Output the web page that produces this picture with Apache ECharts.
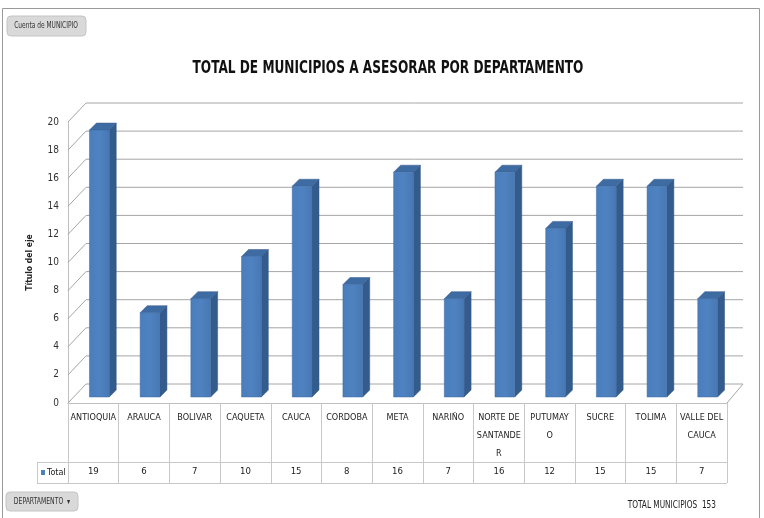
<!DOCTYPE html>
<html>
<head>
<meta charset="utf-8">
<script src="https://cdn.jsdelivr.net/npm/echarts@6/dist/echarts.min.js"></script>
<style>html,body{margin:0;padding:0;background:#fff}#c{width:764px;height:518px}</style>
</head>
<body>
<div id="c"></div>
<script>
const categories = ['ANTIOQUIA','ARAUCA','BOLIVAR','CAQUETA','CAUCA','CORDOBA','META','NARIÑO','NORTE DE SANTANDER','PUTUMAYO','SUCRE','TOLIMA','VALLE DEL CAUCA'];
const categoryLabels = ['ANTIOQUIA','ARAUCA','BOLIVAR','CAQUETA','CAUCA','CORDOBA','META','NARIÑO','NORTE DE\nSANTANDE\nR','PUTUMAY\nO','SUCRE','TOLIMA','VALLE DEL\nCAUCA'];
const totals = [19,6,7,10,15,8,16,7,16,12,15,15,7];
const yTicks = [0,2,4,6,8,10,12,14,16,18,20];
const titleText = 'TOTAL DE MUNICIPIOS A ASESORAR POR DEPARTAMENTO';
const seriesName = 'Total';

const FONT = "'Liberation Sans Narrow','DejaVu Sans Condensed',sans-serif";
const DX = 18, DY = -19;      // depth of the walls
const OX = 6, OY = -6;        // bar placement inside depth
const BDX = 7, BDY = -7;      // bar depth
const grandTotal = totals.reduce((a,b)=>a+b,0);

const chart = echarts.init(document.getElementById('c'), null, {renderer:'canvas'});

const option = {
  backgroundColor:'#ffffff',
  animation:false,
  grid:{left:68, right:37, top:122, bottom:115},
  xAxis:[{
    type:'category', data:categories, position:'bottom',
    axisLine:{show:true, lineStyle:{color:'#bfbfbf', width:1}},
    axisTick:{show:true, length:80, interval:0, lineStyle:{color:'#c8c8c8'}},
    axisLabel:{interval:0, hideOverlap:false, margin:6, fontFamily:FONT, fontSize:9, lineHeight:18, color:'#222', verticalAlign:'top',
      formatter:(v,i)=>categoryLabels[i]}
  },{
    type:'category', data:categories, position:'bottom', offset:59,
    axisLine:{show:true, lineStyle:{color:'#c8c8c8', width:1}},
    axisTick:{show:false},
    axisLabel:{interval:0, hideOverlap:false, margin:5, fontFamily:FONT, fontSize:9.5, color:'#222',
      formatter:(v,i)=>String(totals[i])}
  }],
  yAxis:{
    type:'value', min:0, max:20, interval:2,
    axisLine:{show:true, lineStyle:{color:'#bfbfbf'}},
    axisTick:{show:false}, splitLine:{show:false},
    axisLabel:{margin:9, fontFamily:FONT, fontSize:10, color:'#333'},
    name:'Título del eje', nameLocation:'middle', nameGap:34, nameRotate:90,
    nameTextStyle:{fontFamily:FONT, fontSize:8.5, fontWeight:'bold', color:'#222'}
  },
  series:[{
    type:'custom', name:'walls', silent:true, z:1,
    data: yTicks.map(v=>[0,v]),
    renderItem:(params, api)=>{
      const cs = params.coordSys;
      const y = api.coord([0, api.value(1)])[1];
      const st = {stroke:'#a6a6a6', lineWidth:1};
      const children = [
        {type:'line', shape:{x1:cs.x, y1:y, x2:cs.x+DX, y2:y+DY}, style:st},
        {type:'line', shape:{x1:cs.x+DX, y1:y+DY, x2:cs.x+cs.width+DX-2, y2:y+DY}, style:st}
      ];
      if (api.value(1) === 0) {
        children.push({type:'line', shape:{x1:cs.x+cs.width, y1:y, x2:cs.x+cs.width+DX-2, y2:y+DY}, style:st});
      }
      return {type:'group', children};
    }
  },{
    type:'custom', name:seriesName, z:5,
    data: totals.map((v,i)=>[i,v]),
    renderItem:(params, api)=>{
      const i = api.value(0), v = api.value(1);
      const t = api.coord([i, v]);
      const b = api.coord([i, 0]);
      const bw = api.size([1,0])[0]*0.39;
      const x0 = t[0]-bw/2+OX, x1 = t[0]+bw/2+OX;
      const yt = t[1]+OY, yb = b[1]+OY;
      return {type:'group', children:[
        {type:'polygon', shape:{points:[[x1,yt],[x1+BDX,yt+BDY],[x1+BDX,yb+BDY],[x1,yb]]}, style:{fill:'#335b8c', stroke:'#2f5581', lineWidth:0.5}},
        {type:'polygon', shape:{points:[[x0,yt],[x1,yt],[x1+BDX,yt+BDY],[x0+BDX,yt+BDY]]}, style:{fill:'#3f6ba3', stroke:'#34598a', lineWidth:0.5}},
        {type:'polygon', shape:{points:[[x0,yt],[x1,yt],[x1,yb],[x0,yb]]}, style:{
          fill:new echarts.graphic.LinearGradient(0,0,1,0,[{offset:0,color:'#4a7dbc'},{offset:0.5,color:'#4f82c0'},{offset:1,color:'#4878b5'}]),
          stroke:'#3e6ca4', lineWidth:0.5}}
      ]};
    }
  }],
  graphic:[
    {type:'rect', shape:{x:2.5, y:8.5, width:757, height:520}, style:{fill:'none', stroke:'#9a9a9a', lineWidth:1}, silent:true},
    {type:'text', x:388, y:68, scaleX:0.75, style:{text:titleText, fontFamily:FONT, fontSize:18, fontWeight:'bold', fill:'#111', align:'center', verticalAlign:'middle'}},
    {type:'rect', shape:{x:7, y:16, width:79, height:20, r:4}, style:{fill:'#d9d9d9', stroke:'#c4c4c4', lineWidth:1}},
    {type:'text', x:46, y:26, scaleX:0.82, style:{text:'Cuenta de MUNICIPIO', fontFamily:FONT, fontSize:8, fill:'#333', align:'center', verticalAlign:'middle'}},
    {type:'rect', shape:{x:6, y:492, width:72, height:19, r:4}, style:{fill:'#d9d9d9', stroke:'#c4c4c4', lineWidth:1}},
    {type:'text', x:42, y:502, scaleX:0.85, style:{text:'DEPARTAMENTO  ▾', fontFamily:FONT, fontSize:8, fill:'#333', align:'center', verticalAlign:'middle'}},
    {type:'line', shape:{x1:37, y1:462.5, x2:68, y2:462.5}, style:{stroke:'#c8c8c8', lineWidth:1}},
    {type:'line', shape:{x1:37, y1:483.5, x2:727, y2:483.5}, style:{stroke:'#c8c8c8', lineWidth:1}},
    {type:'line', shape:{x1:37.5, y1:462, x2:37.5, y2:484}, style:{stroke:'#c8c8c8', lineWidth:1}},
    {type:'rect', shape:{x:41, y:470, width:4, height:5}, style:{fill:'#4f81bd'}},
    {type:'text', x:47, y:473, style:{text:seriesName, fontFamily:FONT, fontSize:9, fill:'#222', align:'left', verticalAlign:'middle'}},
    {type:'text', x:716, y:505, scaleX:0.82, style:{text:'TOTAL MUNICIPIOS  ' + grandTotal, fontFamily:FONT, fontSize:10, fill:'#222', align:'right', verticalAlign:'middle'}}
  ]
};
chart.setOption(option);
</script>
</body>
</html>
